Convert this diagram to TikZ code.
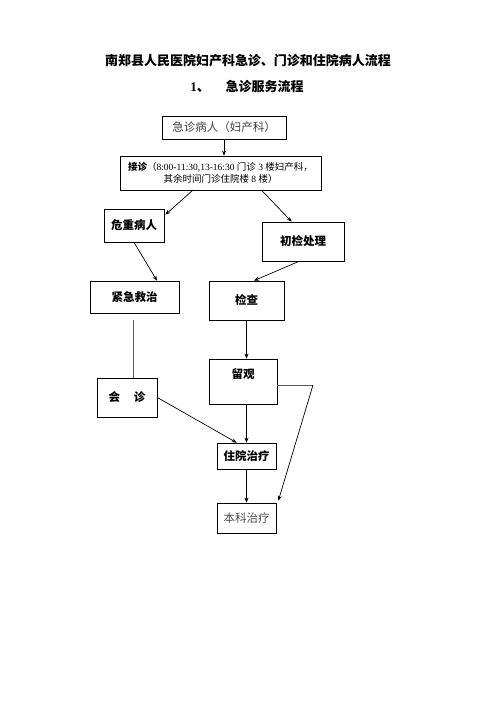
\documentclass[tikz,border=0pt]{standalone}
\usepackage{fontspec}
\setmainfont{Liberation Serif}
\newfontfamily\cjk{Noto Sans CJK SC}
\usetikzlibrary{arrows.meta}

\begin{document}
\begin{tikzpicture}[x=1pt, y=-1pt, line width=0.7pt,
  box/.style={draw, inner sep=0pt, align=center,
    font=\cjk\fontsize{11.5}{13}\selectfont},
  boldbox/.style={box, font=\cjk\bfseries\fontsize{11.5}{13}\selectfont},
  arr/.style={-{Stealth[length=5pt,width=4pt]}},
  pale/.style={draw=black!65}]

 \useasboundingbox (0,0) rectangle (496,702);

 % heading
 \node (title) at (248,61) {\cjk\bfseries\fontsize{13}{15}\selectfont
   南郑县人民医院妇产科急诊、门诊和住院病人流程};
 \node (sub) at (247,87) {\fontsize{13}{15}\selectfont\bfseries 1{\cjk 、}\hspace{16pt}{\cjk 急诊服务流程}};

 % boxes
 \node[box, minimum width=124, minimum height=23, text=black!75] (sick) at (224,127.5) {急诊病人（妇产科）};
 \node[box, minimum width=201, minimum height=34, font=\fontsize{9.5}{12.5}\selectfont] (reg) at (220.5,173)
   {{\cjk\bfseries 接诊}{\cjk （}8:00-11:30,13-16:30 {\cjk 门诊} 3 {\cjk 楼妇产科，}\\
    {\cjk 其余时间门诊住院楼} 8 {\cjk 楼）}};
 \node[boldbox, minimum width=60, minimum height=33] (crit) at (134,225.5) {危重病人};
 \node[boldbox, minimum width=82, minimum height=39] (init) at (303,241.5) {初检处理};
 \node[boldbox, minimum width=89, minimum height=32] (rescue) at (134.5,297) {紧急救治};
 \node[boldbox, minimum width=75, minimum height=39] (exam) at (246.5,300.5) {检查};
 \node[boldbox, minimum width=60, minimum height=39] (consult) at (127,397.5) {会\hspace{14pt}诊};
 \node[boldbox, minimum width=68, minimum height=45] (obs) at (243,381.5)
   {\raisebox{7pt}[\height][\depth]{留观}};
 \node[boldbox, minimum width=59, minimum height=26] (hosp) at (246.5,456) {住院治疗};
 \node[box, minimum width=59, minimum height=30, text=black!70] (dept) at (246.5,518) {本科治疗};

 % connectors
 \draw[arr] (sick.south) -- (sick.south |- reg.north);
 \draw[arr] ([xshift=73pt]reg.south west) -- ([shift={(1,6)}]crit.north east);
 \draw[arr] ([xshift=142pt]reg.south west) -- ([xshift=30pt]init.north west);
 \draw[arr] (crit.south) -- ([xshift=22.5pt]rescue.north);
 \draw[arr] ([xshift=-4pt]init.south) -- ([xshift=7.5pt]exam.north);
 \draw[pale] ([shift={(-1.5,7)}]rescue.south) -- ([xshift=-1.5pt]rescue.south |- consult.north);
 \draw[arr] (exam.south) -- (exam.south |- obs.north);
 \draw[arr] (hosp.north |- obs.south) -- (hosp.north);
 \draw[arr] (hosp.south) -- (dept.north);
 \draw[arr] (consult.east) -- ([xshift=20pt]hosp.north west);
 \coordinate (bend) at (313,385);
 \draw[pale] ([yshift=-3.5pt]obs.east) -- (bend);
 \draw[arr] (bend) -- ([shift={(2,-2)}]dept.north east);
\end{tikzpicture}
\end{document}
